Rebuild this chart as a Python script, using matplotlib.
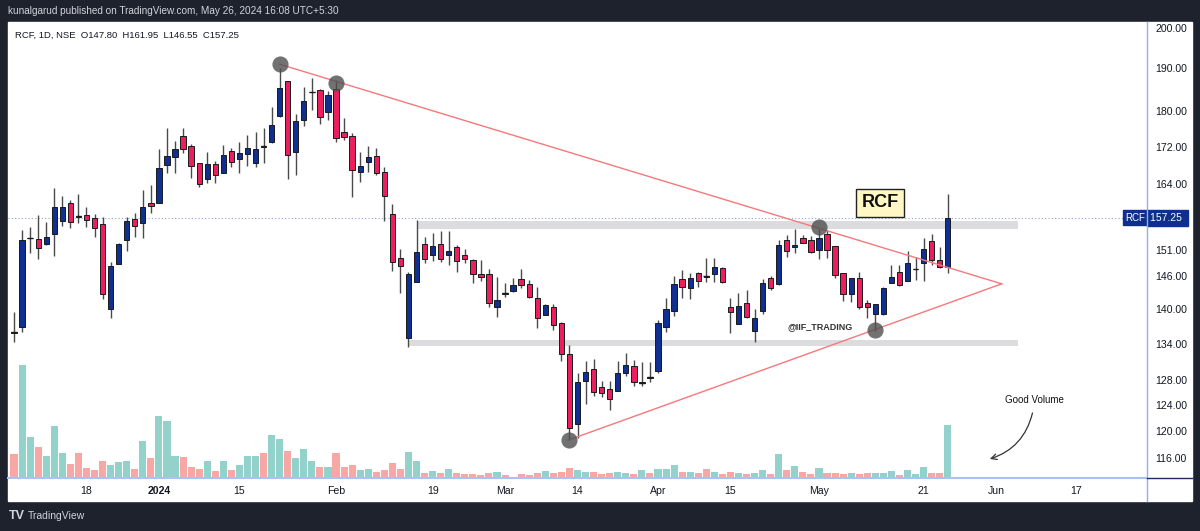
import numpy as np
import matplotlib.pyplot as plt
from matplotlib.patches import Rectangle
from matplotlib.lines import Line2D
from matplotlib.ticker import NullLocator, NullFormatter
from matplotlib.transforms import blended_transform_factory

plt.rcParams['font.family'] = ['Liberation Sans', 'DejaVu Sans']

# RCF, 1D, NSE - дневные свечи (дек 2023 - 24 мая 2024)
opens = [136.0, 136.9, 153.2, 153.1, 152.1, 154.0, 156.6, 160.2, 157.5, 157.8,
         157.2, 156.0, 140.1, 148.3, 152.9, 157.0, 156.2, 160.2, 160.2, 168.1,
         169.8, 174.4, 172.2, 168.5, 165.2, 168.3, 166.4, 171.1, 169.4, 170.5,
         168.5, 172.1, 173.1, 178.9, 187.0, 170.9, 178.0, 184.3, 184.9, 179.8,
         185.1, 175.3, 174.4, 166.6, 168.8, 170.0, 166.6, 158.0, 149.4, 135.0,
         145.0, 152.1, 150.0, 152.1, 150.0, 151.5, 150.0, 149.0, 146.4, 146.4,
         140.4, 143.0, 143.3, 145.5, 144.6, 142.0, 139.0, 140.4, 137.6, 132.3,
         121.1, 127.9, 129.8, 126.9, 126.6, 126.2, 129.2, 130.3, 127.6, 128.5,
         129.5, 136.9, 139.7, 145.5, 143.9, 146.6, 146.0, 146.4, 147.6, 140.4,
         137.4, 141.2, 136.2, 139.7, 145.7, 144.6, 152.9, 151.5, 153.3, 152.9,
         151.0, 154.0, 151.7, 146.6, 142.8, 145.7, 141.2, 139.2, 139.2, 144.8,
         146.8, 145.1, 147.3, 148.5, 152.7, 149.0, 147.8]
highs = [139.6, 154.8, 155.4, 157.8, 156.4, 163.3, 161.7, 160.8, 162.1, 159.4,
         158.0, 157.4, 148.7, 152.3, 157.4, 158.2, 162.9, 163.9, 171.6, 176.2,
         173.3, 176.2, 172.6, 168.5, 170.9, 169.0, 172.4, 171.8, 173.1, 174.6,
         175.3, 176.2, 181.0, 190.1, 187.0, 179.4, 185.6, 187.7, 185.1, 184.7,
         187.2, 178.4, 175.1, 170.9, 172.2, 171.8, 167.7, 160.0, 151.1, 146.8,
         156.8, 153.5, 154.2, 154.6, 154.6, 151.9, 151.1, 149.2, 149.0, 147.4,
         145.9, 144.8, 145.7, 147.4, 145.3, 144.0, 141.0, 141.0, 137.8, 133.8,
         129.2, 131.1, 131.5, 127.9, 127.9, 131.1, 132.5, 131.3, 131.0, 131.0,
         138.1, 142.0, 146.1, 147.2, 146.6, 146.8, 149.4, 149.4, 147.7, 142.0,
         143.0, 143.5, 140.1, 145.5, 146.1, 152.9, 153.9, 155.0, 153.9, 153.7,
         155.0, 154.8, 151.7, 146.6, 145.7, 146.8, 141.7, 141.0, 144.0, 148.1,
         148.1, 150.8, 149.6, 153.3, 154.0, 151.5, 161.95]
lows = [134.3, 136.0, 150.4, 149.2, 151.9, 149.8, 155.6, 155.2, 156.2, 155.4,
        153.5, 141.9, 138.5, 148.3, 150.8, 153.5, 153.3, 158.2, 160.2, 166.4,
        166.4, 170.7, 165.4, 163.5, 164.3, 164.3, 166.4, 167.7, 166.4, 167.9,
        167.7, 168.5, 172.9, 178.7, 165.2, 166.0, 176.6, 180.3, 177.1, 178.0,
        173.1, 173.5, 161.4, 164.5, 166.6, 166.0, 156.6, 147.0, 143.0, 133.5,
        145.0, 148.5, 148.9, 148.7, 148.1, 146.8, 148.5, 144.8, 145.1, 140.4,
        138.7, 142.2, 143.1, 143.9, 142.0, 136.7, 139.0, 136.4, 131.1, 118.6,
        118.9, 124.2, 125.5, 125.3, 123.2, 126.2, 128.7, 127.1, 127.1, 127.7,
        129.2, 136.1, 138.8, 142.0, 141.9, 144.0, 145.0, 145.0, 144.8, 135.9,
        137.4, 138.5, 134.3, 139.2, 143.5, 144.4, 149.6, 150.4, 152.3, 150.4,
        149.2, 149.4, 145.7, 141.5, 141.3, 140.1, 138.5, 136.2, 139.0, 144.8,
        144.2, 145.1, 145.3, 145.1, 148.1, 147.6, 146.55]
closes = [135.8, 152.9, 153.3, 151.3, 153.5, 159.4, 159.4, 156.4, 157.3, 156.8,
          155.2, 142.8, 147.9, 152.1, 156.6, 155.6, 159.4, 159.6, 167.5, 170.0,
          171.6, 171.6, 167.9, 164.1, 168.3, 166.0, 170.3, 168.8, 170.7, 171.8,
          171.6, 172.0, 176.9, 185.3, 170.3, 177.8, 182.3, 184.5, 178.7, 183.8,
          174.0, 174.2, 167.1, 167.9, 169.8, 166.4, 161.7, 148.7, 147.9, 146.4,
          150.6, 149.2, 151.7, 149.2, 150.8, 148.9, 149.2, 146.4, 145.9, 141.2,
          141.7, 142.8, 144.4, 144.4, 142.2, 138.5, 140.8, 137.3, 132.3, 120.5,
          127.7, 129.3, 126.1, 125.9, 125.0, 129.2, 130.5, 127.7, 127.7, 128.35,
          137.6, 140.1, 144.6, 144.0, 145.7, 145.1, 145.8, 147.7, 145.0, 139.6,
          140.6, 138.7, 138.5, 144.8, 143.9, 151.9, 150.8, 151.9, 152.3, 150.6,
          153.3, 151.0, 146.2, 142.8, 145.7, 140.4, 140.4, 141.0, 143.9, 145.9,
          144.4, 148.5, 147.4, 151.1, 149.0, 147.7, 157.25]
# объём (относительные единицы)
volumes = [24, 113, 41, 31, 22, 52, 25, 14, 25, 10, 8, 17, 13, 16, 17, 9, 37, 20,
           62, 57, 22, 21, 11, 9, 17, 7, 17, 8, 13, 22, 22, 25, 43, 39, 27, 20,
           29, 17, 11, 11, 25, 11, 13, 8, 9, 6, 8, 15, 9, 26, 17, 5, 7, 5, 9, 5,
           4, 4, 3.5, 5, 6, 3, 1, 4, 3, 5, 7, 5, 6, 10, 8, 6, 6, 4, 5, 6, 5, 4,
           8, 5, 9, 9, 13, 6, 6, 5, 9, 6, 4, 6, 5, 4, 5, 8, 4, 24, 8, 12, 6, 4,
           10, 5, 5, 4, 5, 4, 5, 5, 5, 7, 3, 8, 4, 11, 5, 5, 53]

tick_pos = [9, 18, 28, 40, 52, 61, 70, 80, 89, 100, 113, 122, 132]
tick_labels = ['18', '2024', '15', 'Feb', '19', 'Mar', '14', 'Apr', '15', 'May',
               '21', 'Jun', '17']
price_ticks = [116, 120, 124, 128, 134, 140, 146, 151, 158, 164, 172, 180, 190, 200]

# рисованные объекты
upper_trend = ([33, 122.7], [191.0, 144.6])
lower_trend = ([68.8, 122.7], [118.6, 144.6])
pivots_x = [33, 40, 100, 107, 69]
pivots_y = [191.0, 186.5, 155.4, 136.4, 118.6]
zone_hi = (50, 124.7, 155.0, 156.6)
zone_lo = (49, 124.7, 133.7, 134.7)
last_price = 157.25

UP, DOWN = '#102f93', '#ec1f5e'
VUP, VDOWN = '#92d2cb', '#f7a8a5'

W, H = 1200, 531
fig = plt.figure(figsize=(12, 5.31), dpi=100, facecolor='#1e222d')
fig.patches.append(Rectangle((8 / W, 1 - 501 / H), 1184 / W, 479 / H,
                             transform=fig.transFigure, color='white', zorder=-10))

rect = [8 / W, 1 - 478 / H, 1139 / W, 456 / H]
axv = fig.add_axes(rect)
ax = fig.add_axes(rect, sharex=axv)
ax.patch.set_alpha(0)

x = np.arange(len(closes))
o = np.array(opens); c = np.array(closes)
hi = np.array(highs); lo = np.array(lows)
up = c >= o

# объём
axv.bar(x, volumes, width=0.88, color=np.where(up, VUP, VDOWN), linewidth=0)
axv.set_ylim(0, 456)
axv.axis('off')

# свечи
ax.vlines(x, lo, hi, color='#4a4a4a', lw=1, zorder=3)
body_h = np.abs(c - o)
ax.bar(x, body_h, bottom=np.minimum(o, c), width=0.66,
       color=np.where(up, UP, DOWN), edgecolor='#1a1a1a', linewidth=0.7, zorder=4)
doji = body_h < 0.25
ax.hlines(o[doji], x[doji] - 0.35, x[doji] + 0.35, color='#1a1a1a', lw=1, zorder=4)

ax.set_yscale('log')
ax.set_ylim(113.06, 201.5)
ax.set_xlim(-0.75, 140.75)

# зоны
ax.fill_between(zone_hi[:2], zone_hi[2], zone_hi[3], color='#dcdcde', lw=0, zorder=1)
ax.fill_between(zone_lo[:2], zone_lo[2], zone_lo[3], color='#dcdcde', lw=0, zorder=1)

# треугольник
ax.plot(*upper_trend, color='#f7787c', lw=1, zorder=5)
ax.plot(*lower_trend, color='#f7787c', lw=1, zorder=5)
ax.scatter(pivots_x, pivots_y, s=135, color='#4f4f4f', alpha=0.8, lw=0, zorder=6)

# линия последней цены
ax.axhline(last_price, color='#8fa3d0', ls=(0, (1, 2)), lw=0.8, zorder=2)
tr = blended_transform_factory(ax.transAxes, ax.transData)
ax.text(0.9985, last_price, 'RCF', transform=tr, ha='right', va='center',
        color='white', fontsize=7, zorder=8,
        bbox=dict(boxstyle='square,pad=0.25', fc='#0f2f8f', ec='#0f2f8f'))
ax.text(1.003, last_price, '157.25 ', transform=tr, ha='left', va='center',
        color='white', fontsize=7.5, zorder=8, clip_on=False,
        bbox=dict(boxstyle='square,pad=0.3', fc='#0f2f8f', ec='#0f2f8f'))

ax.text(107.6, 160.2, 'RCF', ha='center', va='center', fontsize=13,
        fontweight='bold', color='#111111', zorder=8,
        bbox=dict(boxstyle='square,pad=0.3', fc='#fff8c4', ec='#222222', lw=1))
ax.text(100.1, 136.9, '@IIF_TRADING', ha='center', va='center', fontsize=6.5,
        fontweight='bold', color='#333333', zorder=8)
ax.text(126.8, 124.8, 'Good Volume', ha='center', va='center', fontsize=7,
        color='#111111', zorder=8)
ax.annotate('', xy=(120.9, 115.7), xytext=(126.6, 123.2),
            arrowprops=dict(arrowstyle='->', connectionstyle='arc3,rad=-0.3',
                            color='#333333', lw=0.9), zorder=8)

# оси
ax.yaxis.tick_right()
ax.set_yticks(price_ticks, [f'{t:.2f}' for t in price_ticks])
ax.yaxis.set_minor_locator(NullLocator())
ax.yaxis.set_minor_formatter(NullFormatter())
ax.set_xticks(tick_pos, tick_labels)
ax.get_xticklabels()[1].set_fontweight('bold')
ax.tick_params(axis='y', length=0, pad=6, labelsize=7.6, labelcolor='#131722')
ax.tick_params(axis='x', length=0, pad=6, labelsize=7.6, labelcolor='#131722')
for s in ax.spines.values():
    s.set_visible(False)

# рамки шкал
fig.add_artist(Line2D([1147 / W, 1147 / W], [1 - 22 / H, 1 - 501 / H],
                      color='#8fb0f0', lw=1))
fig.add_artist(Line2D([8 / W, 1147 / W], [1 - 478 / H, 1 - 478 / H],
                      color='#a9c1f5', lw=1.5))
fig.add_artist(Line2D([1147 / W, 1192 / W], [1 - 478 / H, 1 - 478 / H],
                      color='#1e2a5a', lw=1))

fig.text(8 / W, 1 - 11 / H,
         'kunalgarud published on TradingView.com, May 26, 2024 16:08 UTC+5:30',
         color='#d1d4dc', fontsize=7.2, va='center')
fig.text(15 / W, 1 - 35 / H, 'RCF, 1D, NSE  O147.80  H161.95  L146.55  C157.25',
         color='#131722', fontsize=6.8, va='center')
fig.text(9 / W, 1 - 516 / H, 'TV', color='#d1d4dc', fontsize=9,
         fontweight='bold', va='center')
fig.text(28 / W, 1 - 516 / H, 'TradingView', color='#d1d4dc', fontsize=7.5,
         va='center')

plt.savefig('out.png', dpi=100, facecolor=fig.get_facecolor())
